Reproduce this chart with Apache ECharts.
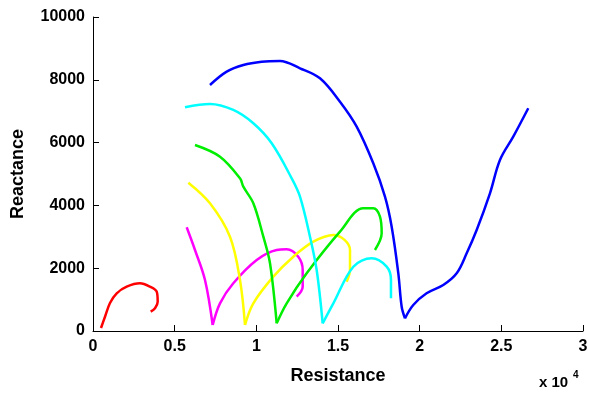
<!DOCTYPE html>
<html>
<head>
<meta charset="utf-8">
<script src="https://cdn.jsdelivr.net/npm/echarts@6/dist/echarts.min.js"></script>
<style>
  html, body { margin: 0; padding: 0; background: #fff; }
  #chart { width: 589px; height: 396px; }
</style>
</head>
<body>
<div id="chart"></div>
<script>
// [resistance, reactance] pairs
const red = [[490, 96], [735, 455], [1041, 892], [1451, 1200], [2063, 1411], [2877, 1519], [3490, 1411], [3900, 1252], [3961, 933], [3796, 723], [3532, 615]];
const magenta = [[5736, 3303], [6244, 2580], [6857, 1624], [7328, 191], [7775, 881], [8590, 1519], [10022, 2261], [11246, 2580], [11858, 2602], [12568, 2366], [12838, 1943], [12838, 1411], [12470, 1093]];
const yellow = [[5836, 4724], [7163, 4067], [8387, 3003], [9000, 1624], [9306, 191], [9816, 881], [11041, 1730], [12265, 2366], [13490, 2844], [14714, 3058], [15400, 2900], [15735, 2580], [15735, 1943], [15530, 1571]];
const green = [[6244, 5924], [7775, 5552], [9000, 4863], [9204, 4596], [9816, 4067], [10429, 3003], [10837, 2156], [11246, 245], [11858, 881], [13082, 1838], [15121, 3163], [16547, 3908], [17160, 3908], [17570, 3640], [17674, 3112], [17263, 2580]];
const cyan = [[5632, 7125], [7163, 7230], [8590, 7039], [9816, 6615], [10940, 5978], [12164, 4863], [12673, 4278], [13285, 3003], [13694, 1943], [14062, 245], [14714, 881], [15939, 2048], [17059, 2315], [17980, 2048], [18243, 1624], [18243, 1041]];
const blue = [[7163, 7835], [8185, 8259], [9204, 8472], [10327, 8577], [11449, 8600], [12673, 8367], [13897, 8048], [15121, 7302], [16143, 6507], [17160, 5340], [17876, 4278], [18286, 3322], [18693, 1838], [18898, 774], [19100, 404], [19608, 828], [20424, 1200], [21445, 1465], [22266, 1838], [22878, 2475], [23490, 3217], [24304, 4386], [24916, 5446], [25730, 6189], [26649, 7093]];

const seriesList = [
  { data: red, color: '#ff0000' },
  { data: magenta, color: '#ff00ff' },
  { data: yellow, color: '#ffff00' },
  { data: green, color: '#00ee00' },
  { data: cyan, color: '#00ffff' },
  { data: blue, color: '#0000ff' }
];

// split each curve at its lowest point so the cusp stays sharp
function pieces(data) {
  let k = 0;
  data.forEach((p, i) => { if (p[1] < data[k][1]) k = i; });
  if (k === 0 || k === data.length - 1) return [data];
  return [data.slice(0, k + 1), data.slice(k)];
}

const series = [];
seriesList.forEach(s => {
  pieces(s.data).forEach(d => {
    series.push({
      type: 'line',
      data: d,
      symbol: 'none',
      smooth: 0.35,
      lineStyle: { color: s.color, width: 2.5 }
    });
  });
});

const chart = echarts.init(document.getElementById('chart'));
const tickFont = { fontFamily: 'Liberation Sans', fontWeight: 'bold', fontSize: 16, color: '#000' };
const axisLine = { show: true, lineStyle: { color: '#000', width: 1 } };

chart.setOption({
  animation: false,
  backgroundColor: '#fff',
  grid: { left: 93, right: 6, top: 17, bottom: 65, outerBoundsMode: 'none' },
  graphic: [{
    type: 'text', left: 539, top: 375,
    style: { text: 'x 10', font: 'bold 15px "Liberation Sans"', fill: '#000' }
  }, {
    type: 'text', left: 573, top: 370,
    style: { text: '4', font: 'bold 10px "Liberation Sans"', fill: '#000' }
  }],
  xAxis: {
    type: 'value', min: 0, max: 30000, interval: 5000,
    name: 'Resistance', nameLocation: 'middle', nameGap: 36,
    nameTextStyle: { fontFamily: 'Liberation Sans', fontWeight: 'bold', fontSize: 18, color: '#000' },
    axisLine: axisLine,
    axisTick: { show: true, inside: true, length: 6, lineStyle: { color: '#000' } },
    axisLabel: Object.assign({ margin: 8, formatter: v => String(v / 10000) }, tickFont),
    splitLine: { show: false }
  },
  yAxis: {
    type: 'value', min: 0, max: 10000, interval: 2000,
    name: 'Reactance', nameLocation: 'middle', nameGap: 66, nameRotate: 90,
    nameTextStyle: { fontFamily: 'Liberation Sans', fontWeight: 'bold', fontSize: 18, color: '#000' },
    axisLine: axisLine,
    axisTick: { show: true, inside: true, length: 6, lineStyle: { color: '#000' } },
    axisLabel: Object.assign({ margin: 8, formatter: v => String(v) }, tickFont),
    splitLine: { show: false }
  },
  series: series
});
</script>
</body>
</html>
